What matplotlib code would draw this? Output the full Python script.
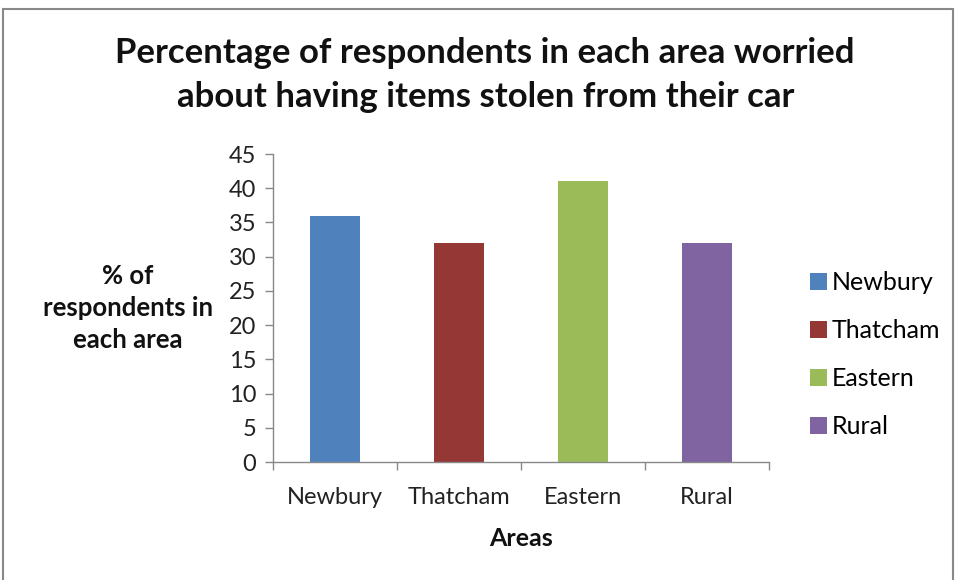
import matplotlib
matplotlib.use("Agg")
import matplotlib.pyplot as plt
from matplotlib.patches import Rectangle, Patch

categories = ["Newbury", "Thatcham", "Eastern", "Rural"]
values = [36, 32, 41, 32]
colors = ["#4F81BD", "#953735", "#9BBB59", "#8064A2"]
yticks = [0, 5, 10, 15, 20, 25, 30, 35, 40, 45]

plt.rcParams['font.family'] = ['Lato', 'DejaVu Sans']

fig = plt.figure(figsize=(9.57, 5.80), dpi=100)
ax = fig.add_axes([0.2853, 0.2034, 0.5183, 0.531])

x = list(range(len(categories)))
ax.bar(x, values, width=0.4, color=colors, zorder=2)
ax.set_xlim(-0.5, len(categories) - 0.5)
ax.set_ylim(0, 45)
ax.set_yticks(yticks)
ax.set_xticks(x)
ax.set_xticklabels(categories)
ax.set_xticks([i - 0.5 for i in range(len(categories) + 1)], minor=True)
ax.tick_params(axis='x', which='major', length=0, pad=18, labelsize=17, colors='#222222')
ax.tick_params(axis='x', which='minor', length=6, width=1, color='#888888')
ax.tick_params(axis='y', length=6, width=1, color='#888888', labelsize=17, labelcolor='#222222', pad=6)
for s in ['top', 'right']:
    ax.spines[s].set_visible(False)
for s in ['left', 'bottom']:
    ax.spines[s].set_color('#888888')
    ax.spines[s].set_linewidth(1)

fig.text(0.507, 1 - 75 / 580, "Percentage of respondents in each area worried\nabout having items stolen from their car",
         ha='center', va='center', fontsize=25, fontweight='bold', linespacing=1.45, color='#111111')
fig.text(128 / 957, 1 - 308 / 580, "% of\nrespondents in\neach area", ha='center', va='center',
         fontsize=18.5, fontweight='bold', linespacing=1.42, color='#111111')
fig.text(521 / 957, 1 - 538 / 580, "Areas", ha='center', va='center', fontsize=18, fontweight='bold', color='#111111')

handles = [Patch(facecolor=c, edgecolor='none') for c in colors]
fig.legend(handles, categories, loc='upper left', bbox_to_anchor=(800 / 957, 1 - 261 / 580),
           frameon=False, fontsize=18, labelspacing=1.0, handlelength=0.68, handleheight=0.68,
           handletextpad=0.2, borderaxespad=0)

fig.patches.append(Rectangle((3 / 957, -0.05), 950 / 957, 1.05 - 9 / 580, transform=fig.transFigure,
                             fill=False, edgecolor='#888888', linewidth=1.5))

fig.savefig("out.png", dpi=100)
